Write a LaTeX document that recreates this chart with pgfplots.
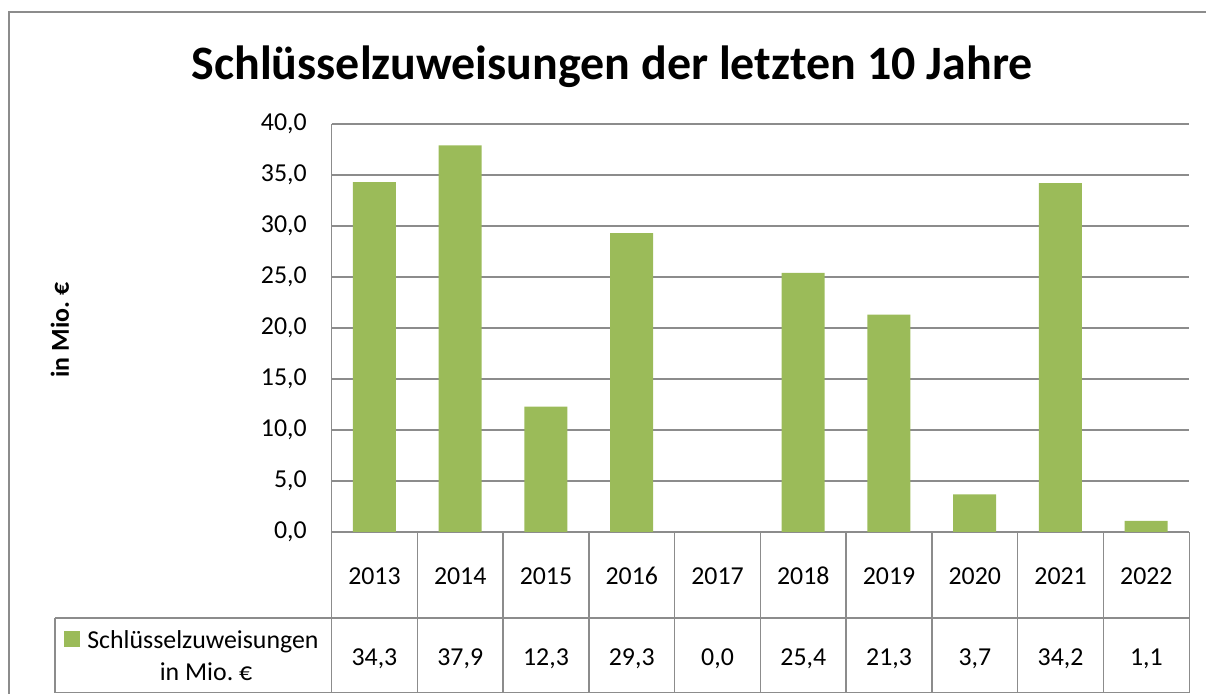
\documentclass[border=0pt]{standalone}
\usepackage{pgfplots}
\pgfplotsset{compat=1.18}
\usepackage{fontspec}
\setmainfont{Carlito}

\definecolor{barolive}{HTML}{9BBB59}
\definecolor{linegray}{HTML}{8C8C8C}

\begin{document}
\begin{tikzpicture}
\path[use as bounding box] (0,0) rectangle (24.12,13.88);

\begin{axis}[
    at={(6.63cm,3.24cm)}, anchor=south west,
    scale only axis,
    width=17.15cm, height=8.16cm,
    xmin=0.5, xmax=10.5,
    ymin=0, ymax=40,
    ytick distance=5,
    xtick=\empty,
    axis lines*=left,
    axis line style={linegray, line width=0.8pt},
    ymajorgrids,
    grid style={linegray, line width=0.8pt},
    major tick length=0pt,
    yticklabel style={font=\fontsize{14.7}{17}\selectfont, anchor=east, inner sep=0pt, xshift=-0.49cm},
    /pgf/number format/.cd, fixed, fixed zerofill, precision=1, use comma, assume math mode=true,
]
\addplot[ybar, bar width=0.86cm, fill=barolive, draw=none] coordinates {
    (1,34.3) (2,37.9) (3,12.3) (4,29.3) (5,0.0)
    (6,25.4) (7,21.3) (8,3.7) (9,34.2) (10,1.1)
};
\end{axis}

% pixel coordinates of the reference, y pointing down
\begin{scope}[shift={(0cm,13.88cm)}, x=0.02cm, y=-0.02cm]
  % chart border (cropped at right and bottom)
  \draw[linegray, line width=0.8pt] (9,694) -- (9,12) -- (1206,12);
  % title
  \node[anchor=base, font=\fontsize{27.3}{32}\selectfont\bfseries] at (612,79)
    {Schlüsselzuweisungen der letzten 10 Jahre};
  % y label
  \node[rotate=90, font=\fontsize{14.7}{17}\selectfont\bfseries] at (60,330) {in Mio.\ €};
  % data table
  \draw[linegray, line width=0.8pt] (55,618) -- (1189,618);
  \draw[linegray, line width=0.8pt] (55,692.5) -- (1189,692.5);
  \draw[linegray, line width=0.8pt] (55,618) -- (55,692.5);
  \foreach \k in {0,...,10}
    \draw[linegray, line width=0.8pt] ({331.5+\k*85.75},532) -- ({331.5+\k*85.75},692.5);
  \foreach \yr/\val [count=\i] in {2013/{34,3}, 2014/{37,9}, 2015/{12,3}, 2016/{29,3},
      2017/{0,0}, 2018/{25,4}, 2019/{21,3}, 2020/{3,7}, 2021/{34,2}, 2022/{1,1}} {
    \node[font=\fontsize{14.7}{17}\selectfont] at ({331.5+(\i-0.5)*85.75},576) {\yr};
    \node[anchor=base, font=\fontsize{14.7}{17}\selectfont] at ({331.5+(\i-0.5)*85.75},665) {\val};
  }
  % legend key
  \fill[barolive] (64,631) rectangle (80,647);
  \node[anchor=base west, inner sep=0pt, font=\fontsize{14.7}{17}\selectfont] at (87,648) {Schlüsselzuweisungen};
  \node[anchor=base, inner sep=0pt, font=\fontsize{14.7}{17}\selectfont] at (206,680) {in Mio.\ €};
\end{scope}
\end{tikzpicture}
\end{document}
